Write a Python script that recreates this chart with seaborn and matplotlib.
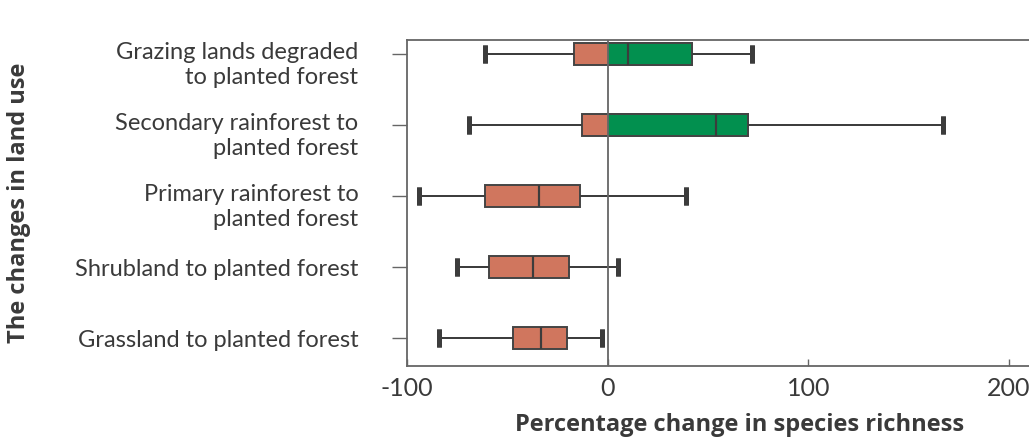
import numpy as np
import pandas as pd
import seaborn as sns
import matplotlib.pyplot as plt
import matplotlib.transforms as mtrans
from matplotlib.patches import Rectangle

# land-use changes (top to bottom)
changes = ['Grazing lands degraded\nto planted forest',
           'Secondary rainforest to\nplanted forest',
           'Primary rainforest to\nplanted forest',
           'Shrubland to planted forest',
           'Grassland to planted forest']
# five-number summaries: min, q1, median, q3, max
lo = [-61, -69, -94, -75, -84]
q1 = [-17, -13, -61, -59, -47]
med = [10, 54, -34, -37, -33]
q3 = [42, 70, -14, -19, -20]
hi = [72, 167, 39, 5, -3]

rows = []
for i, c in enumerate(changes):
    for v in (lo[i], q1[i], med[i], q3[i], hi[i]):
        rows.append({'change': c, 'value': v})
df = pd.DataFrame(rows)

sns.set_style('white')
plt.rcParams['font.family'] = ['Lato', 'DejaVu Sans']
plt.rcParams['axes.unicode_minus'] = False

fig = plt.figure(figsize=(10.29, 4.41), dpi=100)
ax = fig.add_axes([407 / 1029, 1 - 366 / 441, (1073 - 407) / 1029, (366 - 40) / 441])

box_kw = dict(data=df, x='value', y='change', order=changes, orient='h',
              whis=(0, 100), width=0.31, linecolor='#444444', linewidth=1.4,
              fliersize=0, capwidths=0.25, ax=ax,
              capprops=dict(linewidth=3.5, color='#3c3c3c', solid_capstyle='butt'),
              whiskerprops=dict(linewidth=1.3, color='#3c3c3c'),
              medianprops=dict(linewidth=1.5, color='#3c3c3c'))

# orange for the whole box, then green for the part above zero
sns.boxplot(color='#d0765e', saturation=1, **box_kw)
n = len(ax.patches)
sns.boxplot(color='#02904f', saturation=1, **box_kw)
clip = Rectangle((0, -10), 1000, 20, transform=ax.transData)
for p in ax.patches[n:]:
    p.set_clip_path(clip)

ax.axvline(0, color='#666666', lw=1.3, zorder=2.05)

ax.set_xlim(-100, 232)
ax.set_ylim(4.39, -0.2)
ax.set_xticks([-100, 0, 100, 200])
for s in ['left', 'top', 'bottom']:
    ax.spines[s].set_color('#666666')
    ax.spines[s].set_linewidth(1.3)
ax.spines['right'].set_visible(False)

ax.tick_params(axis='y', direction='out', length=11, width=1, color='#666666',
               pad=24, labelsize=17, left=True)
ax.tick_params(axis='x', direction='in', length=5, width=1, color='#666666',
               pad=8, labelsize=18, bottom=True)
bold = dict(fontsize=17, fontweight='bold', color='#3a3a3a',
            family=['Open Sans', 'DejaVu Sans'])
ax.set_xlabel('Percentage change in species richness', labelpad=9, **bold)
ax.set_ylabel('The changes in land use', **bold)
ax.yaxis.set_label_coords((31 - 407) / 666, 0.5)
for t in ax.get_xticklabels() + ax.get_yticklabels():
    t.set_color('#3a3a3a')
# two-line labels sit a little below their tick
shift = mtrans.ScaledTranslation(0, -0.07, fig.dpi_scale_trans)
for t in ax.get_yticklabels():
    if '\n' in t.get_text():
        t.set_transform(t.get_transform() + shift)

fig.savefig('out.png', dpi=100)
